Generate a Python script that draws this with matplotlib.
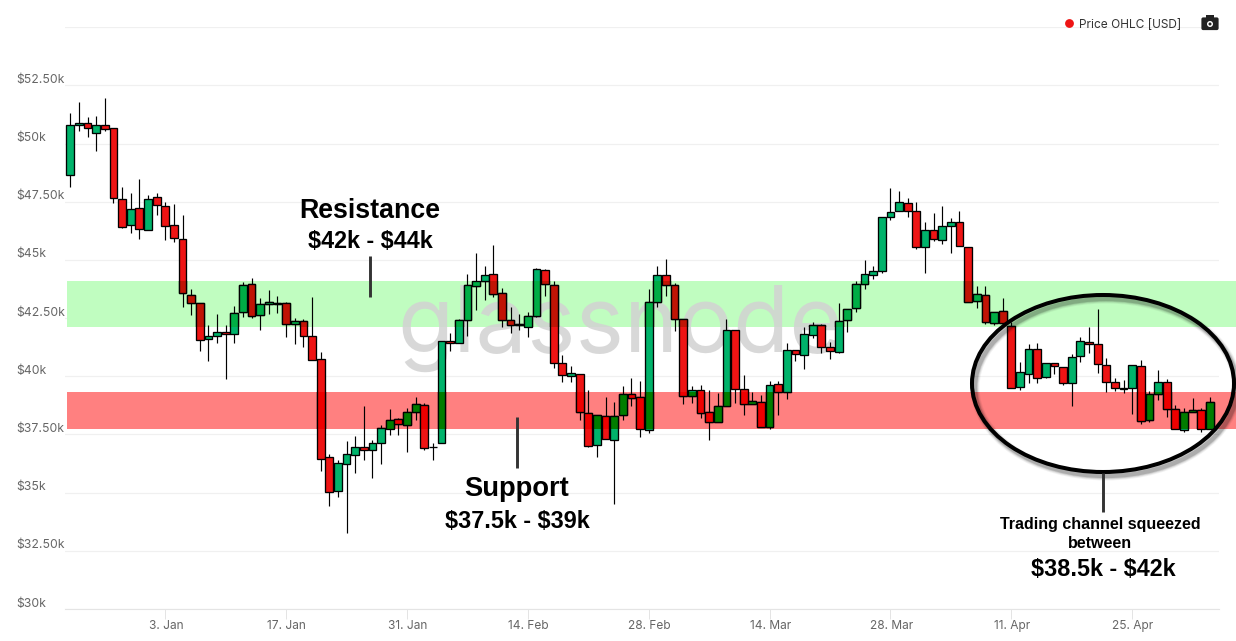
import numpy as np
import pandas as pd
import matplotlib
matplotlib.use("Agg")
import matplotlib.pyplot as plt
from matplotlib.patches import Rectangle, Ellipse, FancyBboxPatch, Circle

start_date = "2021-12-23"
opens = [48.64,50.78,50.87,50.44,50.78,50.66,47.60,46.49,47.22,46.27,47.69,47.30,46.49,45.89,43.48,43.14,41.59,41.72,41.89,41.80,
42.75,43.95,42.62,43.09,43.14,43.14,42.23,42.36,41.72,40.73,36.52,35.06,36.22,36.60,36.95,36.82,37.12,37.72,38.15,37.89,
38.45,38.75,36.97,37.12,41.50,41.42,42.41,43.87,44.08,44.38,43.57,42.41,42.20,42.10,42.58,44.55,43.91,40.56,40.00,40.09,
38.41,37.03,38.28,37.25,38.32,39.23,39.10,37.68,43.18,44.34,43.91,42.45,39.14,39.40,38.45,38.02,38.71,41.98,39.44,38.80,
38.88,37.81,39.66,39.31,41.12,40.90,41.76,42.19,41.25,41.03,42.41,42.92,43.95,44.34,44.51,46.83,47.09,47.43,47.09,45.54,
46.27,45.84,46.44,46.62,45.54,43.22,43.48,42.28,42.79,42.15,39.53,40.09,41.16,39.96,40.56,40.39,39.70,40.86,41.46,41.37,
40.47,39.74,39.47,39.48,40.43,38.11,39.23,39.74,38.58,37.68,38.45,38.54,37.72]
highs = [51.30,51.77,51.13,51.18,51.96,50.66,48.12,47.86,48.46,47.78,47.86,47.48,47.39,46.92,43.74,43.14,42.20,42.68,42.19,43.02,
44.04,44.22,43.35,43.71,43.45,43.18,42.49,42.45,43.39,41.03,36.66,36.39,37.21,37.43,38.72,37.26,37.91,38.59,38.19,38.62,
39.10,38.84,37.12,41.50,41.85,42.45,44.39,45.28,44.74,45.64,43.78,42.96,42.68,42.78,44.64,44.60,44.08,40.91,40.44,40.09,
39.40,38.32,39.10,38.88,39.58,39.91,39.80,43.74,44.74,45.03,43.99,42.45,39.58,39.63,39.40,39.29,42.45,41.98,40.05,39.31,
39.20,39.78,39.78,41.42,41.12,42.13,42.32,42.23,41.46,43.14,42.88,44.11,45.00,44.74,46.83,48.08,47.95,47.65,47.48,46.63,
47.00,47.30,46.79,47.09,45.54,43.87,43.87,42.75,43.35,42.33,40.60,41.37,41.42,40.56,40.56,40.39,40.94,41.67,42.10,42.88,
40.77,39.91,39.84,40.47,40.69,39.35,40.26,39.87,38.75,38.62,39.05,38.62,39.10]
lows = [48.15,50.55,50.29,49.69,50.55,47.46,46.36,46.17,45.91,46.27,46.93,45.87,45.78,42.99,42.63,41.10,40.67,41.44,39.87,41.44,
42.56,42.52,41.99,42.68,42.73,41.70,41.39,41.27,40.69,35.94,34.44,34.83,33.25,35.83,36.40,35.64,36.23,37.46,37.46,36.76,
38.12,36.83,36.40,37.12,41.10,41.42,41.73,42.85,43.28,43.42,42.13,41.87,41.99,41.70,42.53,43.45,40.34,39.77,39.77,38.12,
36.97,36.54,37.29,34.50,38.12,38.74,37.38,37.58,42.99,43.46,41.95,38.81,38.86,38.19,37.27,38.02,38.71,38.86,38.34,38.80,
37.81,37.72,38.34,39.02,40.67,40.31,41.63,41.01,40.73,40.99,41.92,42.78,43.76,44.17,44.45,46.72,47.09,46.83,45.46,44.45,
45.83,45.67,45.28,45.58,43.18,42.95,42.23,42.20,42.25,39.48,39.42,39.72,39.72,39.91,40.10,39.64,38.74,40.63,40.99,40.13,
39.34,39.38,39.27,38.37,37.94,38.05,38.97,38.26,37.72,37.62,38.45,37.62,37.72]
closes = [50.78,50.87,50.66,50.78,50.61,47.65,46.40,47.17,46.32,47.60,47.35,46.44,45.93,43.57,43.14,41.55,41.72,41.89,41.80,42.71,
43.91,42.58,43.09,43.18,43.09,42.23,42.36,41.72,40.69,36.43,35.01,36.26,36.65,36.95,36.82,37.12,37.76,38.11,37.94,38.45,
38.80,36.91,36.95,41.50,41.42,42.41,43.91,44.08,44.34,43.52,42.41,42.19,42.23,42.58,44.60,43.95,40.56,40.04,40.13,38.45,
36.99,38.32,37.29,38.28,39.23,39.05,37.72,43.18,44.34,43.91,42.45,39.14,39.40,38.41,38.02,38.71,41.98,39.44,38.80,38.92,
37.81,39.61,39.31,41.12,40.94,41.80,42.19,41.25,41.07,42.36,42.88,43.95,44.38,44.51,46.83,47.05,47.48,47.09,45.54,46.27,
45.89,46.44,46.62,45.58,43.18,43.52,42.32,42.75,42.28,39.48,40.17,41.16,39.91,40.56,40.43,39.70,40.82,41.50,41.37,40.51,
39.74,39.48,39.50,40.47,38.07,39.23,39.74,38.58,37.72,38.45,38.54,37.72,38.88]

y_ticks = [30, 32.5, 35, 37.5, 40, 42.5, 45, 47.5, 50, 52.5, 55]
y_labels = ["$30k", "$32.50k", "$35k", "$37.50k", "$40k", "$42.50k", "$45k", "$47.50k", "$50k", "$52.50k"]
x_ticks = ["2022-01-03", "2022-01-17", "2022-01-31", "2022-02-14", "2022-02-28",
           "2022-03-14", "2022-03-28", "2022-04-11", "2022-04-25"]
x_labels = ["3. Jan", "17. Jan", "31. Jan", "14. Feb", "28. Feb", "14. Mar", "28. Mar", "11. Apr", "25. Apr"]
resistance_band = (42.13, 44.09)
support_band = (37.73, 39.32)

W, H = 1236, 641
UI = ["Inter", "DejaVu Sans"]
ARIAL = ["Liberation Sans", "DejaVu Sans"]
fig = plt.figure(figsize=(W / 100, H / 100), dpi=100, facecolor="white")

L, R, T, B = 65, 1219, 27.25, 609
ax = fig.add_axes([L / W, 1 - B / H, (R - L) / W, (B - T) / H])
over = fig.add_axes([0, 0, 1, 1], zorder=10)
over.set_xlim(0, W); over.set_ylim(H, 0); over.axis("off"); over.patch.set_alpha(0)

dates = pd.date_range(start_date, periods=len(opens), freq="D")
x = np.asarray((dates - dates[0]).days, dtype=float)
tick_x = [(pd.Timestamp(d) - dates[0]).days for d in x_ticks]
px_day = 8.633
ax.set_xlim((L - 70.3) / px_day, (R - 70.3) / px_day)
ax.set_ylim(30, 55)
for s in ("top", "left", "right"):
    ax.spines[s].set_visible(False)
ax.spines["bottom"].set_color("#e4e4e4"); ax.spines["bottom"].set_linewidth(0.8)
ax.set_yticks(y_ticks); ax.set_yticklabels([])
ax.yaxis.set_tick_params(length=0)
ax.grid(axis="y", color="#f0f0f0", lw=0.9, zorder=0)
ax.set_axisbelow(True)
ax.set_xticks(tick_x); ax.set_xticklabels([])
ax.tick_params(axis="x", length=7, width=0.7, color="#e4e4e4")

# bands
bx0, bx1 = (67 - 70.3) / px_day, (1236 - 70.3) / px_day
g_rect = Rectangle((bx0, resistance_band[0]), bx1 - bx0, resistance_band[1] - resistance_band[0],
                   fc="#c0fdc0", ec="none", zorder=1, clip_on=False)
r_rect = Rectangle((bx0, support_band[0]), bx1 - bx0, support_band[1] - support_band[0],
                   fc="#ff8080", ec="none", zorder=1, clip_on=False)
ax.add_patch(g_rect); ax.add_patch(r_rect)

# watermark
ax.text(620, 352, "glassnode", transform=over.transData, ha="center", va="baseline",
        fontsize=66, family=UI, color="#d2d2d2", alpha=0.85, zorder=2, clip_on=False)

# candles
o, h, l, c = map(np.array, (opens, highs, lows, closes))
up = c >= o
RED, GREEN = "#ee1414", "#00b36b"
ax.vlines(x, l, h, color="black", lw=0.85, zorder=3)
cw = 0.9
base = ax.bar(x, np.abs(c - o), bottom=np.minimum(o, c), width=cw,
              color=[GREEN if u else RED for u in up], edgecolor="black", linewidth=0.95, zorder=4)

def tinted(band, red_col, green_col):
    clip = Rectangle((bx0, band[0]), bx1 - bx0, band[1] - band[0], transform=ax.transData)
    bars = ax.bar(x, np.abs(c - o), bottom=np.minimum(o, c), width=cw,
                  color=[green_col if u else red_col for u in up],
                  edgecolor="black", linewidth=0.95, zorder=5)
    for b in bars:
        b.set_clip_path(clip)

tinted(resistance_band, "#c01405", "#00ad45")
tinted(support_band, "#ee0000", "#007d00")

# axis labels
tick_color = "#666666"
for v, s in zip(y_ticks, y_labels):
    yp = B - (v - 30) * (B - T) / 25
    over.text(16, yp - 5.5, s, ha="left", va="center", fontsize=8.8, family=UI, color=tick_color)
for d, s in zip(tick_x, x_labels):
    over.text(70.3 + d * px_day + 0.8, 626, s, ha="center", va="center", fontsize=8.6, family=UI, color=tick_color)

# legend
over.add_patch(Circle((1069.5, 23.5), 4.4, fc="#ee1414", ec="none"))
over.text(1079, 25, "Price OHLC [USD]", ha="left", va="center", fontsize=8.55, family=UI, color="#333333")

# camera icon
cam = "#222222"
over.add_patch(FancyBboxPatch((1202, 18), 16, 11.5, boxstyle="round,pad=0.6,rounding_size=1.8", fc=cam, ec="none"))
over.add_patch(Rectangle((1206, 15.4), 8, 3, fc=cam, ec="none"))
over.add_patch(Circle((1210, 24), 3.0, fc="white", ec="none"))
over.add_patch(Circle((1210, 24), 1.5, fc=cam, ec="none"))

# ellipse with soft shadow
ecx, ecy, ew, eh = 1103, 383.5, 262, 177
for lw_, a in ((6.5, 0.05), (5.2, 0.07), (4.0, 0.10), (3.0, 0.14)):
    over.add_patch(Ellipse((ecx + 3, ecy + 4), ew, eh, fc="none", ec="black", lw=lw_, alpha=a, clip_on=False))
over.add_patch(Ellipse((ecx, ecy), ew, eh, fc="none", ec="black", lw=2.9, clip_on=False))

# callout lines
for xp, y0, y1 in ((370.3, 256, 297), (517.3, 417, 468), (1102.5, 473, 512)):
    over.plot([xp, xp], [y0, y1], color="#333333", lw=2.1, solid_capstyle="butt")

# annotations
notes = [
    (370, 210.5, "Resistance", 19.3),
    (370.5, 242, "$42k - $44k", 16.8),
    (516.5, 489.5, "Support", 19.7),
    (517, 521, "$37.5k - $39k", 16.8),
    (1100, 525, "Trading channel squeezed", 11.5),
    (1100, 544, "between", 11.5),
    (1103.5, 570, "$38.5k - $42k", 16.8),
]
for xp, yp, s, fs in notes:
    over.text(xp, yp, s.replace("$", r"\$"), ha="center", va="center", fontsize=fs, fontweight="bold",
              family=ARIAL, color="black")

fig.savefig("out.png", dpi=100, facecolor="white")
